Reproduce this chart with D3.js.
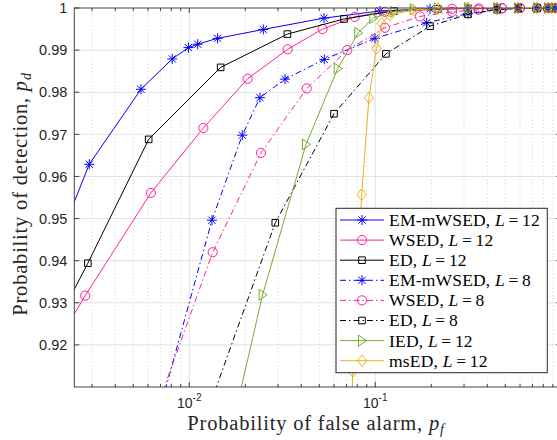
<!DOCTYPE html>
<html>
<head>
<meta charset="utf-8">
<script src="https://cdn.jsdelivr.net/npm/d3@7"></script>
<style>
body { margin: 0; background: #fff; }
</style>
</head>
<body>
<svg id="chart"></svg>
<script>
var width = 557;
var height = 440;
var plotLeft = 74.3, plotRight = 561.3, plotTop = 8, plotBottom = 387;

// values (pf, pd); points outside the axes keep the line ends right
var emPf12 = [0.0020, 0.0029, 0.0055, 0.0081, 0.0099, 0.0111, 0.0142, 0.0250, 0.0530, 0.106, 0.197, 0.315, 0.451, 0.585, 0.74, 0.85, 0.925];
var emPd12 = [0.9450, 0.9629, 0.9807, 0.9879, 0.9906, 0.9914, 0.9928, 0.9949, 0.9976, 0.9993, 0.9998, 0.9999, 1, 1, 1, 1, 1];

var wsPf12 = [0.0018, 0.00276, 0.00622, 0.0119, 0.0206, 0.0338, 0.0521, 0.0775, 0.1127, 0.259, 0.36, 0.48, 0.6, 0.74, 0.85, 0.925];
var wsPd12 = [0.9180, 0.9317, 0.9561, 0.9715, 0.9832, 0.9902, 0.9950, 0.9979, 0.9991, 0.9998, 0.9999, 1, 1, 1, 1, 1];

var edPf12 = [0.0018, 0.00285, 0.00605, 0.01475, 0.0337, 0.0679, 0.126, 0.217, 0.315, 0.451, 0.585, 0.74, 0.85, 0.925];
var edPd12 = [0.9224, 0.9394, 0.9688, 0.9859, 0.9938, 0.9974, 0.9993, 0.9998, 0.9999, 1, 1, 1, 1, 1];

var emPf8 = [0.0065, 0.01324, 0.01928, 0.02398, 0.0327, 0.0532, 0.0996, 0.189, 0.315, 0.451, 0.585, 0.74, 0.85, 0.925];
var emPd8 = [0.9000, 0.9496, 0.9698, 0.9787, 0.9831, 0.9878, 0.9928, 0.9965, 0.9987, 0.9996, 0.9999, 1, 1, 1];

var wsPf8 = [0.0061, 0.01337, 0.0243, 0.0428, 0.0707, 0.1127, 0.174, 0.259, 0.36, 0.48, 0.6, 0.74, 0.85, 0.925];
var wsPd8 = [0.9000, 0.9420, 0.9656, 0.9809, 0.9900, 0.9953, 0.9980, 0.9991, 0.9996, 0.9999, 1, 1, 1, 1];

var edPf8 = [0.0116, 0.0290, 0.0600, 0.1141, 0.197, 0.315, 0.451, 0.585, 0.74, 0.85, 0.925];
var edPd8 = [0.9000, 0.9490, 0.9749, 0.9891, 0.9957, 0.9985, 0.9996, 0.9999, 1, 1, 1];

var iedPf = [0.0169, 0.0248, 0.0424, 0.0628, 0.0810, 0.0976, 0.126, 0.161, 0.217, 0.315, 0.451, 0.585, 0.74, 0.85, 0.925];
var iedPd = [0.9000, 0.9319, 0.9676, 0.9856, 0.9941, 0.9976, 0.9991, 0.9997, 0.9999, 1, 1, 1, 1, 1, 1];

var msPf = [0.0745, 0.0756, 0.0845, 0.0925, 0.1016, 0.1082, 0.120, 0.160, 0.217, 0.315, 0.451, 0.585, 0.74, 0.85, 0.925];
var msPd = [0.9000, 0.9137, 0.9557, 0.9787, 0.9904, 0.9964, 0.9983, 0.9995, 0.9999, 1, 1, 1, 1, 1, 1];

var yTicks = [0.92, 0.93, 0.94, 0.95, 0.96, 0.97, 0.98, 0.99, 1];
var yTickLabels = ["0.92", "0.93", "0.94", "0.95", "0.96", "0.97", "0.98", "0.99", "1"];
var xTicks = [0.01, 0.1];
var xTickExps = ["-2", "-1"];

var series = [
  {name: "EM-mWSED", L: "12", pf: emPf12, pd: emPd12, color: "#0000ff", dash: null, marker: "star"},
  {name: "WSED", L: "12", pf: wsPf12, pd: wsPd12, color: "#ff1f9a", dash: null, marker: "circle"},
  {name: "ED", L: "12", pf: edPf12, pd: edPd12, color: "#000000", dash: null, marker: "square"},
  {name: "EM-mWSED", L: "8", pf: emPf8, pd: emPd8, color: "#0000ff", dash: "6,3,1.5,3", marker: "star"},
  {name: "WSED", L: "8", pf: wsPf8, pd: wsPd8, color: "#ff1f9a", dash: "6,3,1.5,3", marker: "circle"},
  {name: "ED", L: "8", pf: edPf8, pd: edPd8, color: "#000000", dash: "6,3,1.5,3", marker: "square"},
  {name: "IED", L: "12", pf: iedPf, pd: iedPd, color: "#77ac30", dash: null, marker: "triangle"},
  {name: "msED", L: "12", pf: msPf, pd: msPd, color: "#edb120", dash: null, marker: "diamond"}
];

var markerPaths = {
  star: "M0,-5L0,5M-5,0L5,0M-3.6,-3.6L3.6,3.6M-3.6,3.6L3.6,-3.6",
  circle: "M4.6,0A4.6,4.6 0 1,1 -4.6,0A4.6,4.6 0 1,1 4.6,0Z",
  square: "M-3.3,-3.3L3.3,-3.3L3.3,3.3L-3.3,3.3Z",
  triangle: "M-3.5,-5.5L4.5,0L-3.5,5.5Z",
  diamond: "M0,-5.8L4.6,0L0,5.8L-4.6,0Z"
};

var xScale = d3.scaleLog()
  .domain([0.00241, 1])
  .range([plotLeft, plotRight]);

var yScale = d3.scaleLinear()
  .domain([0.91, 1])
  .range([plotBottom, plotTop]);

var svg = d3.select("#chart")
  .attr("width", width)
  .attr("height", height)
  .style("font-family", "'Liberation Sans', Arial, sans-serif");

svg.append("defs").append("clipPath")
    .attr("id", "plotClip")
  .append("rect")
    .attr("x", plotLeft)
    .attr("y", plotTop)
    .attr("width", plotRight - plotLeft)
    .attr("height", plotBottom - plotTop);

// minor x grid (dotted) and major grids
var minorX = [];
[0.001, 0.01, 0.1].forEach(function(dec) {
  for (var k = 2; k <= 9; k++) {
    var v = k * dec;
    if (v > 0.00241 && v < 1) minorX.push(v);
  }
});

svg.append("g").selectAll("line")
  .data(minorX)
  .enter()
  .append("line")
    .attr("x1", d => xScale(d))
    .attr("x2", d => xScale(d))
    .attr("y1", plotTop)
    .attr("y2", plotBottom)
    .attr("stroke", "#c4c4c4")
    .attr("stroke-width", 0.8)
    .attr("stroke-dasharray", "1,2.5");

svg.append("g").selectAll("line")
  .data(xTicks)
  .enter()
  .append("line")
    .attr("x1", d => xScale(d))
    .attr("x2", d => xScale(d))
    .attr("y1", plotTop)
    .attr("y2", plotBottom)
    .attr("stroke", "#e0e0e0");

svg.append("g").selectAll("line")
  .data(yTicks.slice(0, -1))
  .enter()
  .append("line")
    .attr("x1", plotLeft)
    .attr("x2", plotRight)
    .attr("y1", d => yScale(d))
    .attr("y2", d => yScale(d))
    .attr("stroke", "#e0e0e0");

// curves
var line = d3.line()
  .x(d => xScale(d[0]))
  .y(d => yScale(d[1]));

series.forEach(function(s) {
  var pts = s.pf.map((p, i) => [p, s.pd[i]]);
  var g = svg.append("g");
  g.append("path")
    .attr("clip-path", "url(#plotClip)")
    .attr("d", line(pts))
    .attr("fill", "none")
    .attr("stroke", s.color)
    .attr("stroke-width", 1)
    .attr("stroke-dasharray", s.dash);
  g.selectAll("path.mk")
    .data(pts.filter(d => d[0] >= 0.00241 && d[1] >= 0.91))
    .enter()
    .append("path")
      .attr("class", "mk")
      .attr("transform", d => "translate(" + xScale(d[0]) + "," + yScale(d[1]) + ")")
      .attr("d", markerPaths[s.marker])
      .attr("fill", "none")
      .attr("stroke", s.color)
      .attr("stroke-width", 1);
});

// axes box and ticks
var axisColor = "#404040";
svg.append("rect")
  .attr("x", plotLeft)
  .attr("y", plotTop)
  .attr("width", plotRight - plotLeft)
  .attr("height", plotBottom - plotTop)
  .attr("fill", "none")
  .attr("stroke", axisColor)
  .attr("stroke-width", 1);

var ticks = svg.append("g").attr("stroke", axisColor).attr("stroke-width", 1);
xTicks.forEach(function(v) {
  ticks.append("line").attr("x1", xScale(v)).attr("x2", xScale(v)).attr("y1", plotBottom).attr("y2", plotBottom - 5);
  ticks.append("line").attr("x1", xScale(v)).attr("x2", xScale(v)).attr("y1", plotTop).attr("y2", plotTop + 5);
});
minorX.forEach(function(v) {
  ticks.append("line").attr("x1", xScale(v)).attr("x2", xScale(v)).attr("y1", plotBottom).attr("y2", plotBottom - 3);
  ticks.append("line").attr("x1", xScale(v)).attr("x2", xScale(v)).attr("y1", plotTop).attr("y2", plotTop + 3);
});
yTicks.forEach(function(v) {
  ticks.append("line").attr("x1", plotLeft).attr("x2", plotLeft + 5).attr("y1", yScale(v)).attr("y2", yScale(v));
  ticks.append("line").attr("x1", plotRight).attr("x2", plotRight - 5).attr("y1", yScale(v)).attr("y2", yScale(v));
});

svg.append("g").selectAll("text")
  .data(yTicks)
  .enter()
  .append("text")
    .attr("x", plotLeft - 7)
    .attr("y", d => yScale(d))
    .attr("dy", "0.36em")
    .attr("text-anchor", "end")
    .attr("font-size", 14.5)
    .attr("fill", "#262626")
    .text((d, i) => yTickLabels[i]);

var xLab = svg.append("g").selectAll("text")
  .data(xTicks)
  .enter()
  .append("text")
    .attr("x", d => xScale(d))
    .attr("y", 407.5)
    .attr("text-anchor", "middle")
    .attr("font-size", 14)
    .attr("fill", "#262626");
xLab.append("tspan").text("10");
xLab.append("tspan")
  .attr("dy", -6.5)
  .attr("font-size", 10)
  .text((d, i) => xTickExps[i]);

// axis titles
var serif = "'Liberation Serif', 'Times New Roman', serif";
var xt = svg.append("text")
  .attr("x", 316)
  .attr("y", 430)
  .attr("text-anchor", "middle")
  .attr("font-family", serif)
  .attr("font-size", 20.5)
  .attr("letter-spacing", 0.8)
  .attr("fill", "#262626");
xt.append("tspan").text("Probability of false alarm, ");
xt.append("tspan").attr("font-style", "italic").text("p");
xt.append("tspan").attr("font-style", "italic").attr("font-size", 14).attr("dy", 4).text("f");

var yt = svg.append("text")
  .attr("transform", "translate(27,194) rotate(-90)")
  .attr("text-anchor", "middle")
  .attr("font-family", serif)
  .attr("font-size", 20.5)
  .attr("letter-spacing", 0.8)
  .attr("fill", "#262626");
yt.append("tspan").text("Probability of detection, ");
yt.append("tspan").attr("font-style", "italic").text("p");
yt.append("tspan").attr("font-style", "italic").attr("font-size", 14).attr("dy", 4).text("d");

// legend
var legX = 336, legY = 208.3, legW = 211.3, legH = 164.4, legStep = 20.1;
svg.append("rect")
  .attr("x", legX)
  .attr("y", legY)
  .attr("width", legW)
  .attr("height", legH)
  .attr("fill", "#fff")
  .attr("stroke", "#262626")
  .attr("stroke-width", 1);

var entry = svg.append("g").selectAll("g")
  .data(series)
  .enter()
  .append("g")
    .attr("transform", (d, i) => "translate(" + legX + "," + (legY + 11.7 + i * legStep) + ")");

entry.append("line")
  .attr("x1", 4)
  .attr("x2", 48)
  .attr("stroke", d => d.color)
  .attr("stroke-width", 1)
  .attr("stroke-dasharray", d => d.dash);

entry.append("path")
  .attr("transform", "translate(26,0)")
  .attr("d", d => markerPaths[d.marker])
  .attr("fill", "none")
  .attr("stroke", d => d.color);

var lt = entry.append("text")
  .attr("x", 53)
  .attr("dy", "0.34em")
  .attr("font-family", serif)
  .attr("font-size", 17.5)
  .attr("letter-spacing", 0.2)
  .attr("fill", "#000");
lt.append("tspan").text(d => d.name + ", ");
lt.append("tspan").attr("font-style", "italic").text("L");
lt.append("tspan").attr("dx", 3.5).text("=");
lt.append("tspan").attr("dx", 3.5).text(d => d.L);
</script>
</body>
</html>
